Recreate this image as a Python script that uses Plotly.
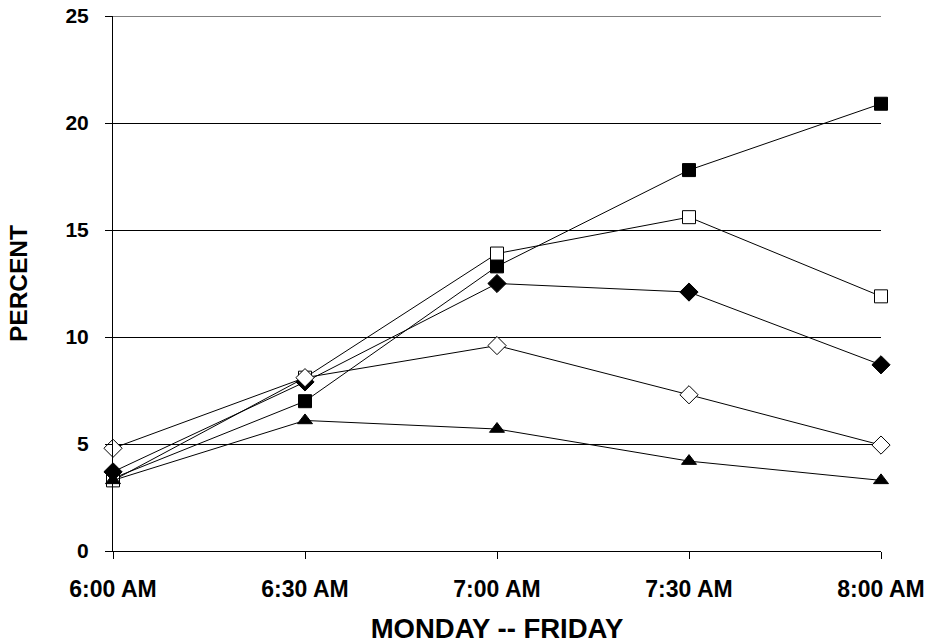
import plotly.graph_objects as go

times = ["6:00 AM", "6:30 AM", "7:00 AM", "7:30 AM", "8:00 AM"]
filled_square = [3.4, 7.0, 13.3, 17.8, 20.9]
open_square = [3.3, 8.1, 13.9, 15.6, 11.9]
filled_diamond = [3.7, 7.9, 12.5, 12.1, 8.7]
open_diamond = [4.8, 8.1, 9.6, 7.3, 4.95]
triangle = [3.3, 6.1, 5.7, 4.2, 3.3]
y_ticks = [0, 5, 10, 15, 20, 25]

xs = list(range(len(times)))
series = [
    (filled_square, "square", "black", 13),
    (open_square, "square", "white", 13),
    (filled_diamond, "diamond", "black", 14),
    (open_diamond, "diamond", "white", 14),
    (triangle, "triangle-up", "black", 13),
]

fig = go.Figure()
for vals, sym, fill, sz in series:
    fig.add_trace(go.Scatter(
        x=xs, y=vals, mode="lines+markers",
        line=dict(color="black", width=1),
        marker=dict(symbol=sym, size=sz, color=fill,
                    line=dict(color="black", width=1)),
        cliponaxis=False, showlegend=False))

# top gridline (plotly skips the one on the plot edge)
fig.add_shape(type="line", xref="paper", x0=0, x1=1, yref="y",
              y0=y_ticks[-1], y1=y_ticks[-1], line=dict(color="black", width=1),
              layer="below")

fam = "Liberation Sans, Arial"
fig.update_layout(
    width=928, height=644,
    margin=dict(l=113, r=47, t=16, b=93),
    paper_bgcolor="white", plot_bgcolor="white",
    font=dict(family=fam, size=16, color="black"),
    xaxis=dict(range=[0, 4], tickvals=xs, ticktext=["<b>%s</b>" % t for t in times],
               tickfont=dict(family=fam, size=23, color="black"),
               automargin=False, ticklabeloverflow="allow",
               showgrid=False, zeroline=False, showline=True, linecolor="black",
               linewidth=1, ticks="outside", ticklen=7, tickcolor="black",
               ticklabelstandoff=10,
               title=dict(text="<b>MONDAY -- FRIDAY</b>",
                          font=dict(family=fam, size=27.5, color="black"), standoff=28)),
    yaxis=dict(range=[0, 25], tickvals=y_ticks, ticktext=["<b>%d</b>" % v for v in y_ticks],
               tickfont=dict(family=fam, size=21, color="black"),
               automargin=False, ticklabeloverflow="allow",
               showgrid=True, gridcolor="black", gridwidth=1, zeroline=False,
               showline=True, linecolor="black", linewidth=1,
               ticks="outside", ticklen=7, tickcolor="black",
               ticklabelstandoff=12,
               title=dict(text="<b>PERCENT</b>",
                          font=dict(family=fam, size=24.5, color="black"), standoff=30)),
)
fig.write_html("out.html", config={"displayModeBar": False},
               post_script="document.body.style.margin='0';document.body.style.overflow='hidden';")
